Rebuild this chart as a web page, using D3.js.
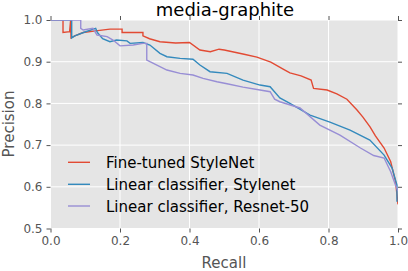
<!DOCTYPE html>
<html><head><meta charset="utf-8">
<script src="https://cdn.jsdelivr.net/npm/d3@7"></script>
<style>body{margin:0;background:#fff}svg{display:block}text{font-family:"DejaVu Sans",sans-serif}</style>
</head><body><svg id="c" width="408" height="271"></svg>
<script>
const title = "media-graphite";
const seriesNames = ["Fine-tuned StyleNet", "Linear classifier, Stylenet", "Linear classifier, Resnet-50"];
const seriesColors = ["#E24A33", "#348ABD", "#988ED5"];
const xTicks = [0.0, 0.2, 0.4, 0.6, 0.8, 1.0];
const yTicks = [0.5, 0.6, 0.7, 0.8, 0.9, 1.0];

const fineTuned = [[0,1],[0.036,1],[0.036,0.97],[0.055,0.972],[0.058,1.0],[0.059,0.957],[0.07,0.962],[0.094,0.97],[0.13,0.974],[0.171,0.978],[0.206,0.978],[0.206,0.97],[0.266,0.97],[0.266,0.962],[0.285,0.955],[0.315,0.948],[0.36,0.945],[0.40,0.946],[0.43,0.928],[0.46,0.924],[0.485,0.93],[0.5,0.928],[0.557,0.918],[0.594,0.911],[0.634,0.899],[0.672,0.881],[0.689,0.873],[0.721,0.866],[0.75,0.856],[0.757,0.836],[0.796,0.832],[0.824,0.823],[0.853,0.81],[0.882,0.784],[0.899,0.767],[0.92,0.743],[0.935,0.722],[0.96,0.693],[0.979,0.66],[0.993,0.612],[1.0,0.558]];
const linStylenet = [[0,1],[0.061,1],[0.061,0.957],[0.07,0.962],[0.095,0.97],[0.13,0.98],[0.135,0.97],[0.15,0.955],[0.171,0.948],[0.19,0.952],[0.22,0.95],[0.229,0.944],[0.266,0.946],[0.286,0.94],[0.315,0.92],[0.335,0.912],[0.373,0.908],[0.41,0.906],[0.43,0.892],[0.459,0.876],[0.508,0.872],[0.554,0.856],[0.603,0.844],[0.632,0.84],[0.66,0.813],[0.689,0.80],[0.747,0.772],[0.804,0.755],[0.862,0.736],[0.919,0.712],[0.96,0.676],[0.983,0.645],[0.997,0.604],[0.997,0.564]];
const linResnet = [[0,1],[0.087,1],[0.087,0.98],[0.094,0.976],[0.122,0.98],[0.134,0.964],[0.163,0.96],[0.18,0.952],[0.2,0.938],[0.238,0.94],[0.266,0.944],[0.277,0.944],[0.277,0.904],[0.286,0.9],[0.335,0.88],[0.373,0.872],[0.41,0.868],[0.439,0.86],[0.479,0.852],[0.508,0.847],[0.554,0.839],[0.603,0.832],[0.632,0.828],[0.645,0.81],[0.66,0.804],[0.718,0.789],[0.775,0.748],[0.833,0.724],[0.892,0.693],[0.93,0.675],[0.96,0.669],[0.979,0.636],[0.993,0.604],[1.0,0.59]];
const allSeries = [fineTuned, linStylenet, linResnet];

const svg = d3.select("#c");
const L = 50.5, R = 398, T = 20, B = 228.5;
const x = d3.scaleLinear().domain([0,1]).range([L,R]);
const y = d3.scaleLinear().domain([0.5,1]).range([B,T]);

svg.append("rect").attr("x",L).attr("y",T).attr("width",R-L).attr("height",B-T).attr("fill","#E5E5E5");
const g = svg.append("g");
g.selectAll(".gx").data(xTicks).join("line").attr("x1",d=>x(d)).attr("x2",d=>x(d)).attr("y1",T).attr("y2",B).attr("stroke","#fff").attr("stroke-width",1);
g.selectAll(".gy").data(yTicks).join("line").attr("y1",d=>y(d)).attr("y2",d=>y(d)).attr("x1",L).attr("x2",R).attr("stroke","#fff").attr("stroke-width",1);

svg.append("clipPath").attr("id","clip").append("rect").attr("x",L).attr("y",T).attr("width",R-L).attr("height",B-T);
const line = d3.line().x(d=>x(d[0])).y(d=>y(d[1]));
svg.append("g").attr("clip-path","url(#clip)").selectAll("path").data(allSeries).join("path")
  .attr("d",line).attr("fill","none").attr("stroke",(d,i)=>seriesColors[i]).attr("stroke-width",1.4);

const tc = "#555";
const axB = d3.axisBottom(x).tickValues(xTicks).tickFormat(d3.format(".1f")).tickSize(4).tickPadding(4);
const axL = d3.axisLeft(y).tickValues(yTicks).tickFormat(d3.format(".1f")).tickSize(4).tickPadding(4);
const axT = d3.axisTop(x).tickValues(xTicks).tickFormat("").tickSize(4);
const axR = d3.axisRight(y).tickValues(yTicks).tickFormat("").tickSize(4);
function style(sel){sel.select(".domain").remove();sel.selectAll("line").attr("stroke",tc);sel.selectAll("text").attr("fill",tc).style("font-size","12px").style("font-family","DejaVu Sans");}
svg.append("g").attr("transform",`translate(0,${B})`).call(axB).call(style);
svg.append("g").attr("transform",`translate(${L},0)`).call(axL).call(style);
svg.append("g").attr("transform",`translate(0,${T})`).call(axT).call(style);
svg.append("g").attr("transform",`translate(${R},0)`).call(axR).call(style);

svg.append("text").attr("x",225).attr("y",16).attr("text-anchor","middle").style("font-size","18px").attr("fill","#000").text(title);
svg.append("text").attr("x",224).attr("y",268).attr("text-anchor","middle").style("font-size","15px").attr("fill",tc).text("Recall");
svg.append("text").attr("transform",`translate(14,124) rotate(-90)`).attr("text-anchor","middle").style("font-size","15px").attr("fill",tc).text("Precision");

const ly = [162.3, 184.3, 206];
const lg = svg.append("g");
seriesNames.forEach((n,i)=>{
  lg.append("line").attr("x1",68).attr("x2",90).attr("y1",ly[i]).attr("y2",ly[i]).attr("stroke",seriesColors[i]).attr("stroke-width",1.4);
  lg.append("text").attr("x",106).attr("y",ly[i]+5.5).style("font-size","15px").attr("fill","#000").text(n);
});
</script></body></html>
